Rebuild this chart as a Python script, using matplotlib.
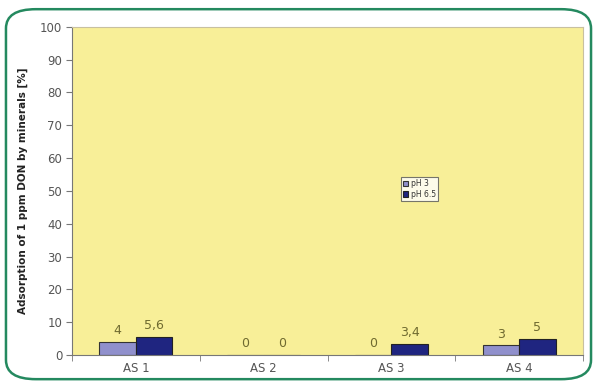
import matplotlib
matplotlib.use("Agg")
import matplotlib.pyplot as plt
import numpy as np
from matplotlib.patches import FancyBboxPatch

categories = ["AS 1", "AS 2", "AS 3", "AS 4"]
series_names = ["pH 3", "pH 6.5"]
ph3_values = [4, 0, 0, 3]
ph65_values = [5.6, 0, 3.4, 5]
ph3_labels = ["4", "0", "0", "3"]
ph65_labels = ["5,6", "0", "3,4", "5"]
y_ticks = [0, 10, 20, 30, 40, 50, 60, 70, 80, 90, 100]

fig = plt.figure(figsize=(5.97, 3.83), dpi=100)
fig.patch.set_facecolor("white")

# rounded green frame around the whole chart
frame = FancyBboxPatch((0.010, 0.010), 0.980, 0.966,
                       boxstyle="round,pad=0,rounding_size=0.05",
                       transform=fig.transFigure, fill=False,
                       edgecolor="#24895f", linewidth=1.8, zorder=0)
fig.patches.append(frame)

ax = fig.add_axes([0.1206, 0.0731, 0.856, 0.857])
ax.set_facecolor("#f8ef98")

x = np.arange(len(categories))
w = 0.285
b1 = ax.bar(x - w / 2, ph3_values, w, color="#9090cc", edgecolor="#333333",
            linewidth=0.8, label=series_names[0])
b2 = ax.bar(x + w / 2, ph65_values, w, color="#1f2580", edgecolor="#222222",
            linewidth=0.8, label=series_names[1])

label_color = "#6f6a30"
for rect, txt in zip(b1, ph3_labels):
    ax.text(rect.get_x() + rect.get_width() / 2, rect.get_height() + 1.4, txt,
            ha="center", va="bottom", fontsize=9, color=label_color)
for rect, txt in zip(b2, ph65_labels):
    ax.text(rect.get_x() + rect.get_width() / 2, rect.get_height() + 1.4, txt,
            ha="center", va="bottom", fontsize=9, color=label_color)

ax.set_xlim(-0.5, len(categories) - 0.5)
ax.set_ylim(0, 100)
ax.set_yticks(y_ticks)
ax.set_yticklabels([str(v) for v in y_ticks], fontsize=8.5, color="#555555")
ax.set_xticks(x)
ax.set_xticklabels(categories, fontsize=8.5, color="#555555")
ax.set_xticks(np.arange(-0.5, len(categories)), minor=True)
ax.tick_params(axis="x", which="major", length=0, pad=5)
ax.tick_params(axis="x", which="minor", length=4, color="#777777")
ax.tick_params(axis="y", length=4, color="#777777", pad=3)

for side in ["top", "right"]:
    ax.spines[side].set_color("#c8c0a0")
    ax.spines[side].set_linewidth(0.8)
for side in ["left", "bottom"]:
    ax.spines[side].set_color("#777777")
    ax.spines[side].set_linewidth(0.8)

ax.set_ylabel("Adsorption of 1 ppm DON by minerals [%]", fontsize=7.5,
              fontweight="bold", color="#222222", labelpad=9)

leg = ax.legend(loc="center", fontsize=5.5,
                frameon=True, fancybox=False, borderpad=0.3,
                handlelength=0.7, handleheight=0.7, handletextpad=0.3,
                labelspacing=0.2, borderaxespad=0)
leg.get_frame().set_edgecolor("#555555")
leg.get_frame().set_linewidth(0.8)
leg.get_frame().set_facecolor("white")
for t in leg.get_texts():
    t.set_color("#333333")
leg.set_bbox_to_anchor((419.5 / 597, 1 - 189 / 383), transform=fig.transFigure)

fig.savefig("out.png", dpi=100, facecolor="white")
